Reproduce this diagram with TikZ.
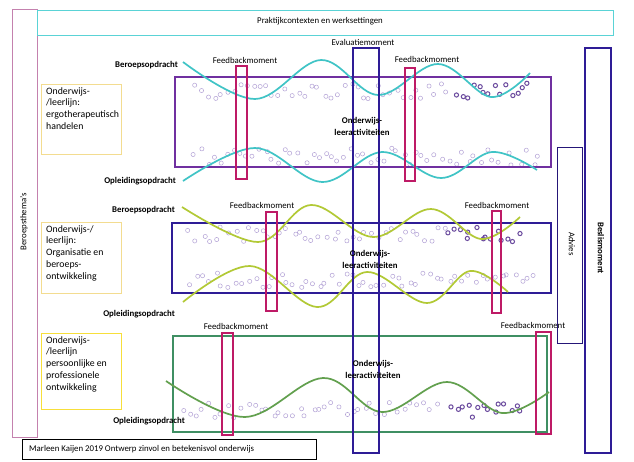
\documentclass[tikz,border=0pt]{standalone}
\usepackage{fontspec}
\setmainfont{Carlito}
\definecolor{cyanc}{HTML}{40C4C6}
\definecolor{topc}{HTML}{5AD3D6}
\definecolor{purp}{HTML}{7030A0}
\definecolor{indig}{HTML}{2E1C96}
\definecolor{magc}{HTML}{BE1A66}
\definecolor{ygreen}{HTML}{B2C935}
\definecolor{grn}{HTML}{62A04E}
\definecolor{boxgreen}{HTML}{3F8F63}
\definecolor{lav}{HTML}{B3A2D6}
\definecolor{darkdot}{HTML}{6B4A9E}
\definecolor{paleyel}{HTML}{F3DC90}
\definecolor{brightyel}{HTML}{F7DF3A}
\definecolor{pinkc}{HTML}{C481AE}
\newcommand\dotband[6]{%
  \foreach \xx in {#1,#2,...,#3}{%
    \pgfmathsetmacro\pa{\xx+rand*2.5}%
    \pgfmathsetmacro\pb{#4+rnd*(#5-#4)}%
    \pgfmathsetmacro\pc{\xx+6+rand*2.5}%
    \pgfmathsetmacro\pd{#4+rnd*(#5-#4)}%
    \draw[#6] (\pa,\pb) circle (2.1pt) (\pc,\pd) circle (2.1pt);
  }}
\begin{document}
\begin{tikzpicture}[x=1pt,y=-1pt,
  txt/.style={font=\fontsize{8.8}{10.5}\selectfont, inner sep=0pt},
  bld/.style={font=\fontsize{8.8}{12}\selectfont\bfseries, inner sep=0pt, align=center},
  lbltxt/.style={font=\fontsize{9.8}{11.8}\selectfont, inner sep=0pt, align=left, anchor=north west},
  lblbox/.style={line width=0.8pt},
  bar/.style={indig, line width=1.6pt},
  fbar/.style={magc, line width=1.6pt},
  wave/.style={line width=1.7pt, smooth, tension=0.6},
  lightdot/.style={lav, line width=0.5pt},
  darkd/.style={darkdot, line width=1pt}]
\useasboundingbox (0,0) rectangle (634,461);
\fill[white] (0,0) rectangle (634,461);
\pgfmathsetseed{7}

% side and top frames
\draw[pinkc, line width=1pt] (12,9) rectangle (37,437);
\node[txt, rotate=90] (bt) at (24,222) {Beroepsthema's};
\draw[topc, line width=1pt] (37,10) rectangle (613,35);
\node[txt] (pk) at (320,21) {Praktijkcontexten en werksettingen};

% ===== section 1 =====
\draw[paleyel, lblbox] (41,84) rectangle (121,154);
\node[lbltxt] (l1) at (46,87) {Onderwijs-\\/leerlijn:\\ergotherapeutisch\\handelen};
\dotband{195}{208}{446}{83}{99}{lightdot}
\dotband{457}{468}{530}{83}{98}{darkd}
\dotband{195}{208}{537}{148}{165}{lightdot}
\draw[purp, line width=1.6pt] (175,77) rectangle (551,167);
\draw[cyanc, wave] plot coordinates {(183,62) (255,99) (321,60) (378,95) (438,64) (491,97) (530,73)};
\draw[cyanc, wave] plot coordinates {(183,181) (255,148) (322,182) (382,152) (441,178) (492,152) (537,170)};
\node[bld, anchor=east] (bo1) at (178,65) {Beroepsopdracht};
\node[bld, anchor=east] (oo1) at (176,181) {Opleidingsopdracht};
\node[txt] (fm1a) at (245,60) {Feedbackmoment};
\node[txt] (fm1b) at (427,59) {Feedbackmoment};
\draw[fbar] (236,66) rectangle (247,179);
\draw[fbar] (405,68) rectangle (415,181);

% ===== section 2 =====
\draw[paleyel, lblbox] (41,222) rectangle (121,293);
\node[lbltxt] (l2) at (46,225) {Onderwijs-/\\leerlijn:\\Organisatie en\\beroeps-\\ontwikkeling};
\dotband{190}{203}{441}{227}{242}{lightdot}
\dotband{448}{459}{518}{227}{242}{darkd}
\dotband{190}{203}{535}{273}{288}{lightdot}
\draw[indig, line width=1.6pt] (172,223) rectangle (551,293);
\draw[ygreen, wave] plot coordinates {(182,207) (258,242) (311,205) (373,237) (431,209) (481,239) (520,217)};
\draw[ygreen, wave] plot coordinates {(183,302) (250,266) (317,307) (367,272) (427,303) (470,271) (508,292)};
\node[bld, anchor=east] (bo2) at (175,210) {Beroepsopdracht};
\node[bld, anchor=east] (oo2) at (175,314) {Opleidingsopdracht};
\node[txt] (fm2a) at (262,205) {Feedbackmoment};
\node[txt] (fm2b) at (497,205) {Feedbackmoment};
\draw[fbar] (266,212) rectangle (277,311);
\draw[fbar] (492,211) rectangle (501,313);

% ===== section 3 =====
\draw[brightyel, lblbox] (41,333) rectangle (121,409);
\node[lbltxt] (l3) at (46,336) {Onderwijs-\\/leerlijn\\persoonlijke en\\professionele\\ontwikkeling};
\dotband{183}{196}{430}{402}{418}{lightdot}
\dotband{450}{461}{522}{403}{419}{darkd}
\draw[boxgreen, line width=1.6pt] (173,336) rectangle (547,432);
\draw[grn, wave] plot coordinates {(166,381) (245,417) (323,378) (382,412) (447,382) (502,413) (549,392)};
\node[bld, anchor=east] (oo3) at (185,421) {Opleidingsopdracht};
\node[txt] (fm3a) at (236,326) {Feedbackmoment};
\node[txt] (fm3b) at (533,325) {Feedbackmoment};
\draw[fbar] (222,333) rectangle (233,435);
\draw[fbar] (536,332) rectangle (551,434);

% ===== evaluation, advice, decision =====
\node[txt] (ev) at (363,42) {Evaluatiemoment};
\draw[bar] (353,48) rectangle (379,453);
\draw[bar] (585,48) rectangle (611,453);
\node[bld, rotate=-90] (bm) at (601,248) {Beslismoment};
\draw[indig!80!black, line width=0.6pt] (557,147) rectangle (582,343);
\node[txt, rotate=-90] (ad) at (572,244) {Advies};

\node[bld] (ol1) at (362,126) {Onderwijs-\\leeractiviteiten};
\node[bld] (ol2) at (370,259) {Onderwijs-\\leeractiviteiten};
\node[bld] (ol3) at (373,369) {Onderwijs-\\leeractiviteiten};

% footer
\draw[black, line width=0.8pt] (22,439) rectangle (316,459);
\node[txt, anchor=west] (ft) at (29,449) {Marleen Kaijen 2019 Ontwerp zinvol en betekenisvol onderwijs};
\end{tikzpicture}
\end{document}
